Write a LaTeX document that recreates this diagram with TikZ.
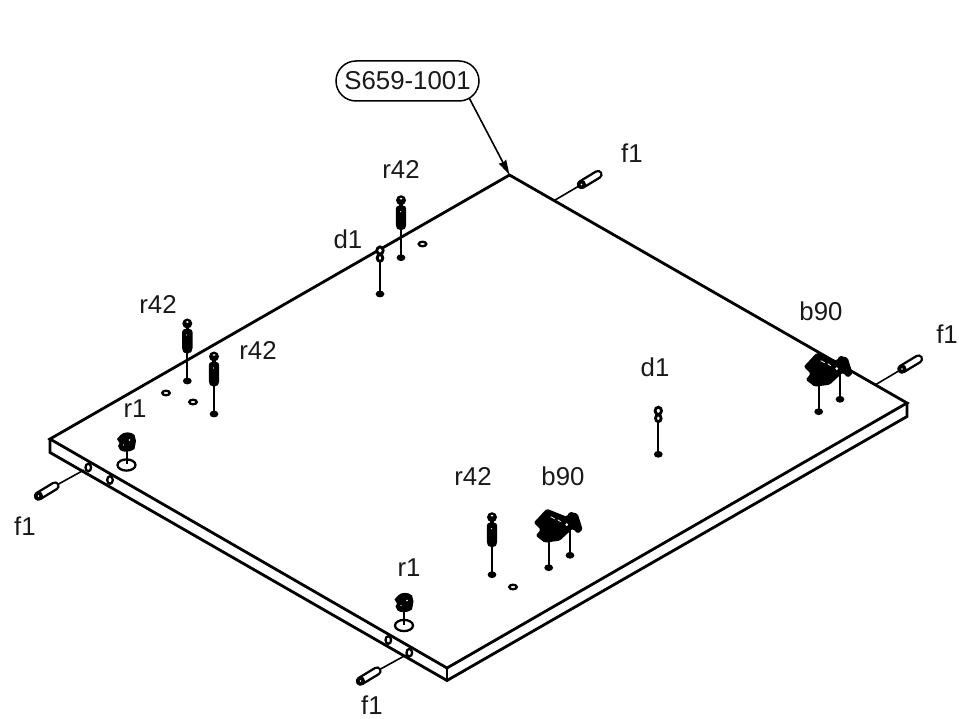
\documentclass[tikz,border=0pt]{standalone}
\usepackage{fontspec}
\setmainfont{Liberation Sans}
\usetikzlibrary{shapes.misc,arrows.meta}
\tikzset{
  x=1pt,y=-1pt,
  edge/.style={line width=2.8pt,line join=miter,line cap=round},
  lead/.style={line width=1.6pt},
  stem/.style={line width=2pt},
  lbl/.style={font=\fontsize{25.8}{30}\selectfont,inner sep=0pt,text=black!90},
  callout/.style={rounded rectangle,rounded rectangle arc length=180,draw,line width=1.5pt,minimum width=143pt,minimum height=40pt,inner sep=0pt,lbl},
  ringhole/.style={line width=2.3pt,fill=white},
  rfour/.pic={
    \draw[stem] (0,0) -- (0,-30);
    \fill (0,0) ellipse [x radius=4.4,y radius=3.4];
    \fill[rounded corners=3pt] (-5.2,-52) -- (5.2,-52) -- (5.2,-30) -- (1.8,-27.5) -- (-1.8,-27.5) -- (-5.2,-30) -- cycle;
    \draw[line width=3.4pt] (0,-57.5) -- (0,-50);
    \fill (0,-57.5) circle [radius=5];
    \fill[white] (0,-59) ellipse [x radius=1.5,y radius=.9];
    \fill[white] (-.5,-46) circle [radius=.6];
  },
  dee/.pic={
    \draw[stem] (0,0) -- (0,-32);
    \fill (0,0) ellipse [x radius=4.4,y radius=3.4];
    \draw[line width=2.8pt,fill=white] (0,-43.5) ellipse [x radius=3.2,y radius=3.6];
    \draw[line width=2.8pt,fill=white] (0,-36) ellipse [x radius=2.8,y radius=3.4];
  },
  rone/.pic={
    \draw[line width=2.3pt] (0,0) ellipse [x radius=9,y radius=5.6];
    \draw[stem] (0,-1) -- (0,-20);
    \fill (-6,-30) .. controls (-3,-33.5) and (5,-33.5) .. (8,-30)
      -- (9.5,-24) -- (8,-16) .. controls (3,-12.5) and (-3,-12.5) .. (-6.5,-15)
      -- (-8.5,-19) -- (-7,-22) -- (-9.5,-26) -- cycle;
    \fill[white] (3,-25) circle [radius=.9];
    \fill[white] (-3,-20) circle [radius=.6];
  },
  bee/.pic={
    \draw[stem] (0,0) -- (0,-28);
    \draw[stem] (21.3,-12.4) -- (21.3,-40);
    \fill (0,0) ellipse [x radius=4.4,y radius=3.4];
    \fill (21.3,-12.4) ellipse [x radius=4.4,y radius=3.4];
    \fill[rounded corners=1.5pt] (-15,-45) -- (-2,-59) -- (18,-51) -- (21,-56) -- (29,-54)
      -- (34,-38) -- (29,-34) -- (24,-39) -- (11,-27) -- (-4,-25) -- (-13,-32) -- (-8,-38) -- cycle;
    \draw[white,line width=.8pt] (2,-51) -- (6,-49) (9,-48) -- (12,-46);
    \fill[white] (18,-43) circle [radius=1.5];
  }
}
\newcommand{\dowelpart}[2]{%
  \draw[line width=9.4pt,line cap=round] (#1) -- (#2);
  \draw[line width=4.6pt,white,line cap=round] (#1) -- (#2);
  \fill (#1) circle [radius=4.6];
  \fill[white] (#1) circle [radius=.9];
}
\begin{document}
\begin{tikzpicture}
\useasboundingbox (0,0) rectangle (959,719);
% board
\coordinate (tt) at (509.5,175);
\coordinate (tl) at (50,439);
\coordinate (tb) at (447,668);
\coordinate (tr) at (907,403);
\coordinate (bl) at (50,452.5);
\coordinate (bb) at (447,680.5);
\coordinate (br) at (907,416.5);
\draw[edge] (tt) -- (tl) -- (tb) -- (tr) -- cycle;
\draw[edge] (tl) -- (bl) -- (bb) -- (br) -- (tr);
\draw[edge] (tb) -- (bb);
% callout
\node[callout] (cal) at (407.5,81) {S659-1001};
\draw[lead,-{Stealth[length=15pt,width=8pt,inset=1pt]}] (cal.-16) -- (tt);
% edge holes
\draw[ringhole] (88.3,467.5) ellipse [x radius=2.8,y radius=3.8];
\draw[ringhole] (110,480) ellipse [x radius=2.8,y radius=3.8];
\draw[ringhole] (388.3,640) ellipse [x radius=2.8,y radius=3.8];
\draw[ringhole] (409.3,652.7) ellipse [x radius=2.8,y radius=3.8];
% surface rings
\draw[ringhole] (422.5,244) ellipse [x radius=3.8,y radius=2.3];
\draw[ringhole] (166,393) ellipse [x radius=3.8,y radius=2.3];
\draw[ringhole] (193,402) ellipse [x radius=3.8,y radius=2.3];
\draw[ringhole] (513,587) ellipse [x radius=3.8,y radius=2.3];
% dowels
\coordinate (fa0) at (581.5,184.5); \coordinate (fa1) at (598,174.5); \coordinate (fa2) at (554.3,200.5);
\coordinate (fb0) at (902,369); \coordinate (fb1) at (918.5,359); \coordinate (fb2) at (875,385);
\coordinate (fc0) at (38.5,496); \coordinate (fc1) at (55,486); \coordinate (fc2) at (84,470);
\coordinate (fd0) at (360.5,681); \coordinate (fd1) at (377,671); \coordinate (fd2) at (406,655);
\draw[lead] (fa0) -- (fa2);
\draw[lead] (fb0) -- (fb2);
\draw[lead] (fc1) -- (fc2);
\draw[lead] (fd1) -- (fd2);
\dowelpart{fa0}{fa1}
\dowelpart{fb0}{fb1}
\dowelpart{fc0}{fc1}
\dowelpart{fd0}{fd1}
% hardware
\pic at (401,257.7) {rfour};
\pic at (187.3,381) {rfour};
\pic at (214,414) {rfour};
\pic at (492,574.7) {rfour};
\pic at (380,294) {dee};
\pic at (658.3,454.3) {dee};
\pic at (126.5,465) {rone};
\pic at (404,625.5) {rone};
\pic at (548.7,567.7) {bee};
\pic at (818.7,411.7) {bee};
% labels
\node[lbl] (l1) at (401,169) {r42};
\node[lbl] (l2) at (348,239) {d1};
\node[lbl] (l3) at (158,304) {r42};
\node[lbl] (l4) at (258,350) {r42};
\node[lbl] (l5) at (135,409) {r1};
\node[lbl] (l6) at (632,153) {f1};
\node[lbl] (l7) at (821,311) {b90};
\node[lbl] (l8) at (947,334) {f1};
\node[lbl] (l9) at (655,367) {d1};
\node[lbl] (l10) at (473,476) {r42};
\node[lbl] (l11) at (563,476) {b90};
\node[lbl] (l12) at (409,568) {r1};
\node[lbl] (l13) at (25,526) {f1};
\node[lbl] (l14) at (372,705.5) {f1};
\end{tikzpicture}
\end{document}
